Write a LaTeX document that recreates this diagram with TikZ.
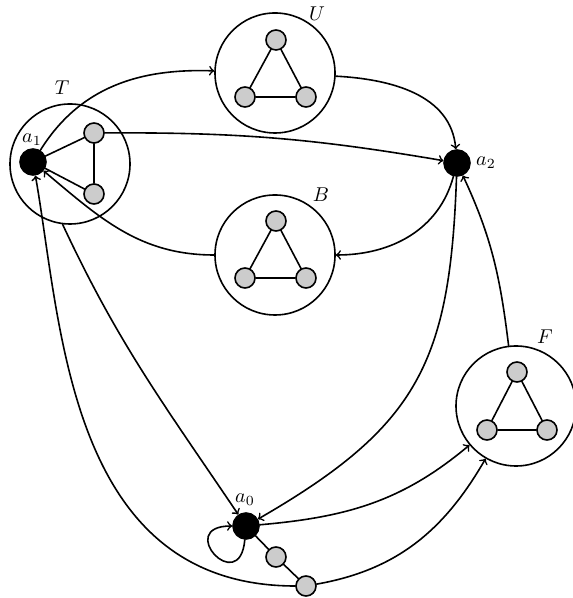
\documentclass[tikz,border=0pt]{standalone}
\begin{document}
\begin{tikzpicture}[x=0.5pt,y=0.5pt,thick,line join=round,line cap=round,>=to,
	cluster/.style={circle,draw,minimum size=60pt,inner sep=0pt},
	big/.style={circle,draw,fill=black,minimum size=13pt,inner sep=0pt},
	small/.style={circle,draw,fill=black!20,minimum size=10pt,inner sep=0pt}]
	\useasboundingbox (0,0) rectangle (572,598);
	% the four groups
	\node[cluster] (T) at (70,434) {};
	\node[cluster] (U) at (275,525) {};
	\node[cluster] (B) at (275,343) {};
	\node[cluster] (F) at (516,192) {};
	\node (lT) at (62,510) {$T$};
	\node (lU) at (317,584) {$U$};
	\node (lB) at (321,403) {$B$};
	\node (lF) at (545,261) {$F$};
	% black vertices
	\node[big] (a1) at (33,436) {};
	\node[big] (a2) at (457,435) {};
	\node[big] (a0) at (246,72) {};
	\node (la1) at (32,458) {$a_1$};
	\node (la2) at (486,435) {$a_2$};
	\node (la0) at (245,98) {$a_0$};
	% gray vertices
	\node[small] (t1) at (94,465) {};
	\node[small] (t2) at (94,404) {};
	\node[small] (u1) at (276,558) {};
	\node[small] (u2) at (245,501) {};
	\node[small] (u3) at (306,501) {};
	\node[small] (b1) at (276,377) {};
	\node[small] (b2) at (245,320) {};
	\node[small] (b3) at (306,320) {};
	\node[small] (f1) at (517,226) {};
	\node[small] (f2) at (487,168) {};
	\node[small] (f3) at (547,168) {};
	\node[small] (g1) at (276,41) {};
	\node[small] (g2) at (306,12) {};
	% inner edges
	\draw (a1)--(t1) (a1)--(t2) (t1)--(t2);
	\draw (u1)--(u2)--(u3)--(u1);
	\draw (b1)--(b2)--(b3)--(b1);
	\draw (f1)--(f2)--(f3)--(f1);
	\draw (a0)--(g1)--(g2);
	% arcs
	\draw[->] (a1) to[out=58,in=178] (U);
	\draw[->] (U) to[out=-3,in=95] (a2);
	\draw[->] (t1) to[bend left=5] (a2);
	\draw[->] (a2) to[out=-105,in=0] (B);
	\draw[->] (B) to[out=180,in=-40] (a1);
	\draw[->] (a2) to[out=-92,in=30,looseness=1.2] (a0);
	\draw[->] (F) to[out=97,in=-65] (a2);
	\draw[->] (T.-97) to[out=-65,in=124] (a0);
	\draw[->] (a0) to[out=5,in=-140] (F);
	\draw[->] (g2) to[out=10,in=-120] (F);
	\draw[->] (g2) to[out=180,in=-80,out looseness=1.2,in looseness=0.8] (a1);
	\draw[->] (a0) to[out=-95,in=180,looseness=8,min distance=18pt] (a0);
\end{tikzpicture}
\end{document}
